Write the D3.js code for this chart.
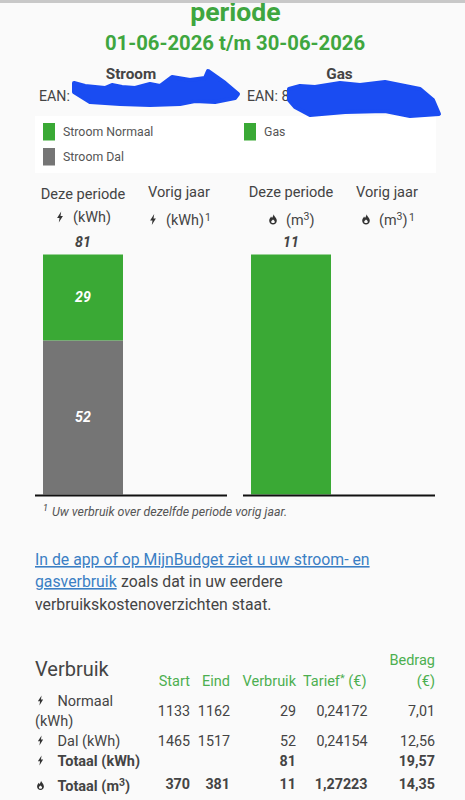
<!DOCTYPE html>
<html><head><meta charset="utf-8">
<script src="https://cdn.jsdelivr.net/npm/d3@7"></script>
<style>
html,body{margin:0;padding:0;background:#fafafa;overflow:hidden}
svg{display:block}
text{font-family:Roboto,sans-serif;fill:#444}
</style></head><body><div id="c"></div>
<script>
const periods = ["Deze periode", "Vorig jaar"];
const stroomSeries = ["Stroom Dal", "Stroom Normaal"];
const stroomValues = [52, 29];
const stroomTotal = 81;
const gasSeries = ["Gas"];
const gasValues = [11];
const tableColumns = ["Start", "Eind", "Verbruik", "Tarief", "Bedrag"];
const rowLabels = ["Normaal", "Dal (kWh)", "Totaal (kWh)", "Totaal (m"];
const rowStart = ["1133", "1465", "", "370"];
const rowEind = ["1162", "1517", "", "381"];
const rowVerbruik = ["29", "52", "81", "11"];
const rowTarief = ["0,24172", "0,24154", "", "1,27223"];
const rowBedrag = ["7,01", "12,56", "19,57", "14,35"];

const GREEN = "#3aa935", GREY = "#757575", TITLE = "#3fa63f", HEAD = "#4caf50", BLUE = "#1a4cf2", INK = "#444";
const color = d3.scaleOrdinal().domain(["Stroom Normaal", "Stroom Dal", "Gas"]).range([GREEN, GREY, GREEN]);

const svg = d3.select("#c").append("svg").attr("width", 465).attr("height", 800);
svg.append("rect").attr("width", 465).attr("height", 800).attr("fill", "#fafafa");

function T(x, y, s, size, o = {}) {
  const t = svg.append("text").attr("x", x).attr("y", y).text(s).attr("font-size", size)
    .attr("text-anchor", o.a || "start").style("fill", o.c || INK);
  if (o.w) t.attr("font-weight", o.w);
  if (o.i) t.attr("font-style", "italic");
  return t;
}
function bolt(x, y, s = 1) {
  svg.append("path").attr("transform", `translate(${x},${y}) scale(${s})`)
    .attr("d", "M1.2,-5.5 L-2.9,0.9 L-0.5,0.9 L-1.2,5.5 L2.9,-1.1 L0.5,-1.1 Z").attr("fill", "#333");
}
function flame(x, y, s = 1) {
  svg.append("path").attr("transform", `translate(${x},${y}) scale(${s})`).attr("fill-rule", "evenodd")
    .attr("d", "M0.6,-5.2 C1,-3 3.8,-1.8 3.8,1.2 C3.8,3.6 2,5 0,5 C-2,5 -3.8,3.6 -3.8,1.2 C-3.8,-0.8 -2.4,-1.8 -2,-3 C-1.4,-2.4 -1.2,-1.8 -1,-1.4 C-0.4,-2.4 0.4,-3.8 0.6,-5.2 Z M0,0 C-1,1 -1.8,1.6 -1.8,2.2 C-1.8,3.2 -1,3.6 0,3.6 C1,3.6 1.8,3.2 1.8,2.2 C1.8,1.4 0.8,0.8 0,0 Z")
    .attr("fill", "#333");
}

// titles
T(235.5, 20.5, "periode", 26.6, {a: "middle", w: 700, c: TITLE});
T(235, 49.5, "01-06-2026 t/m 30-06-2026", 20.3, {a: "middle", w: 700, c: TITLE});
svg.append("rect").attr("width", 465).attr("height", 3).attr("fill", "#c8c8c8");
T(131, 79, "Stroom", 15.3, {a: "middle", w: 700});
T(339.5, 79, "Gas", 15.3, {a: "middle", w: 700});
T(39, 101, "EAN:", 14.2);
T(247, 101, "EAN: 8", 14.2);

// legend panel
svg.append("rect").attr("x", 35).attr("y", 116).attr("width", 401).attr("height", 57).attr("fill", "#fff");
[["Stroom Normaal", 43, 123], ["Stroom Dal", 43, 148], ["Gas", 244, 123]].forEach(([n, x, y]) => {
  svg.append("rect").attr("x", x).attr("y", y).attr("width", 12).attr("height", 17.5).attr("fill", color(n));
  T(x + 20, y + 13, n, 12.3, {c: "#555"});
});

// redaction scribbles
svg.append("path").attr("fill", BLUE).attr("stroke", BLUE).attr("stroke-width", 4).attr("stroke-linejoin", "round")
  .attr("d", "M74,83 L85,86 L105,88 L112,85 L122,87 L135,88 L150,84 L160,86 L172,77 L190,80 L205,78 L208,71 L225,83 L238,94 L235,98 L215,102 L195,101 L180,104 L150,105 L120,104 L90,102 L74,92Z");
svg.append("path").attr("fill", BLUE).attr("stroke", BLUE).attr("stroke-width", 4).attr("stroke-linejoin", "round")
  .attr("d", "M289,89 L300,86 L315,87 L340,83 L360,85 L385,82 L420,89 L433,100 L439,114 L410,116 L385,111 L345,112 L310,115 L295,107 L289,100Z");

// charts
const plotTop = 254.5, plotBottom = 494.5;
function chart(x0, x1, total) {
  const x = d3.scaleBand().domain(periods).range([x0, x1]).paddingInner(1 / 6).paddingOuter(1 / 12);
  const y = d3.scaleLinear().domain([0, total]).range([plotBottom, plotTop]);
  return {x, y};
}
const sc = chart(35, 227, stroomTotal);
const gc = chart(243, 435, gasValues[0]);
let acc = 0;
stroomValues.forEach((v, i) => {
  const y0 = sc.y(acc), y1 = sc.y(acc + v);
  svg.append("rect").attr("x", sc.x(periods[0])).attr("width", sc.x.bandwidth()).attr("y", y1).attr("height", y0 - y1).attr("fill", color(stroomSeries[i]));
  T(sc.x(periods[0]) + sc.x.bandwidth() / 2, (y0 + y1) / 2 + 5, v, 14.2, {a: "middle", w: 700, i: 1, c: "#fff"});
  acc += v;
});
svg.append("rect").attr("x", gc.x(periods[0])).attr("width", gc.x.bandwidth()).attr("y", gc.y(gasValues[0])).attr("height", gc.y(0) - gc.y(gasValues[0])).attr("fill", color(gasSeries[0]));
T(83, 247, stroomTotal, 14.2, {a: "middle", w: 700, i: 1});
T(291, 247, gasValues[0], 14.2, {a: "middle", w: 700, i: 1});
[[35, 227], [243, 435]].forEach(([a, b]) =>
  svg.append("line").attr("x1", a).attr("x2", b).attr("y1", 495.5).attr("y2", 495.5).attr("stroke", "#111").attr("stroke-width", 1.8));

// column headers
T(83, 199, periods[0], 14.6, {a: "middle"});
T(179, 197, periods[1], 14.6, {a: "middle"});
T(291, 197, periods[0], 14.6, {a: "middle"});
T(387, 197, periods[1], 14.6, {a: "middle"});
bolt(60, 217); T(73, 222, "(kWh)", 14.4);
bolt(153, 219.5); T(166, 225, "(kWh)", 14.4); T(205, 221, "1", 10.5);
flame(273, 219.5); const g1 = T(286, 225, "(m", 14.4); g1.append("tspan").text("3").attr("dy", -5).attr("font-size", 10.5); g1.append("tspan").text(")").attr("dy", 5);
flame(366, 219.5); const g2 = T(379, 225, "(m", 14.4); g2.append("tspan").text("3").attr("dy", -5).attr("font-size", 10.5); g2.append("tspan").text(")").attr("dy", 5); T(409, 221, "1", 10.5);

// footnote
T(43, 511, "1", 9, {i: 1});
T(52, 516, "Uw verbruik over dezelfde periode vorig jaar.", 12.4, {i: 1, c: "#555"});

// link paragraph
const LINK = "#3b7fc4";
T(35, 565, "In de app of op MijnBudget ziet u uw stroom- en", 15.8, {c: LINK}).attr("text-decoration", "underline");
T(35, 587, "gasverbruik", 15.8, {c: LINK}).attr("text-decoration", "underline");
T(121, 587, "zoals dat in uw eerdere", 15.8);
T(35, 610, "verbruikskostenoverzichten staat.", 15.8);

// table
T(35, 676, "Verbruik", 20);
T(190, 686, tableColumns[0], 14.5, {a: "end", c: HEAD});
T(230, 686, tableColumns[1], 14.5, {a: "end", c: HEAD});
T(296, 686, tableColumns[2], 14.5, {a: "end", c: HEAD});
const tr = T(303, 686, "Tarief", 14.5, {c: HEAD});
tr.append("tspan").text("*").attr("dy", -4).attr("font-size", 11);
tr.append("tspan").text(" (€)").attr("dy", 4);
T(435, 665, tableColumns[4], 14.5, {a: "end", c: HEAD});
T(435, 686, "(€)", 14.5, {a: "end", c: HEAD});

const rowY = [716, 746, 766, 789];
rowLabels.forEach((l, i) => {
  const y = rowY[i], w = i >= 2 ? 700 : 400;
  const ly = i === 0 ? 706 : i === 3 ? 791 : y;
  (i === 3 ? flame : bolt)(40.5, ly - 5.5, 0.9);
  const t = T(57.5, ly, l, 14.5, {w: i >= 2 ? 700 : 400});
  if (i === 3) { t.append("tspan").text("3").attr("dy", -5).attr("font-size", 10.5); t.append("tspan").text(")").attr("dy", 5); }
  if (i === 0) T(35, 726, "(kWh)", 14.5);
  T(190, y, rowStart[i], 14.3, {a: "end", w});
  T(230, y, rowEind[i], 14.3, {a: "end", w});
  T(296, y, rowVerbruik[i], 14.3, {a: "end", w});
  T(367.5, y, rowTarief[i], 14.3, {a: "end", w});
  T(435, y, rowBedrag[i], 14.3, {a: "end", w});
});
</script></body></html>
